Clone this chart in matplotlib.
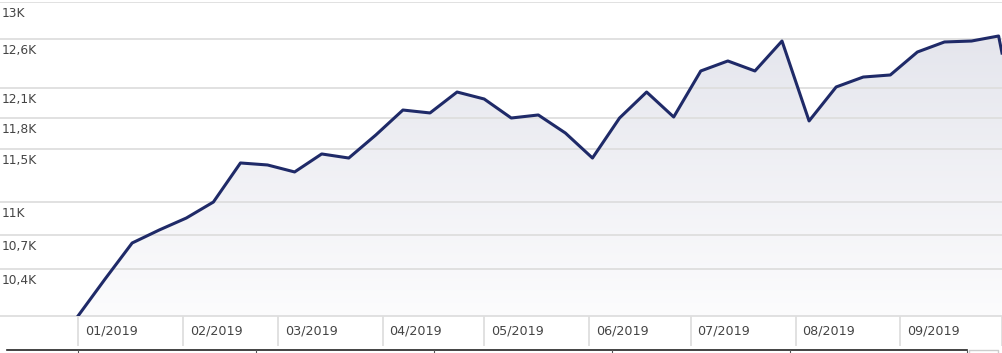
import matplotlib
matplotlib.use('Agg')
import matplotlib.pyplot as plt
import matplotlib.dates as mdates
from matplotlib.ticker import NullLocator, NullFormatter
from matplotlib.colors import LinearSegmentedColormap
import numpy as np
import pandas as pd

# growth of 10K
dates = ['2019-01-01', '2019-01-09', '2019-01-17', '2019-01-25', '2019-02-02', '2019-02-10',
         '2019-02-18', '2019-02-26', '2019-03-06', '2019-03-14', '2019-03-22', '2019-03-30',
         '2019-04-07', '2019-04-15', '2019-04-23', '2019-05-01', '2019-05-09', '2019-05-17',
         '2019-05-25', '2019-06-02', '2019-06-10', '2019-06-18', '2019-06-26', '2019-07-04',
         '2019-07-12', '2019-07-20', '2019-07-28', '2019-08-05', '2019-08-13', '2019-08-21',
         '2019-08-29', '2019-09-06', '2019-09-14', '2019-09-22', '2019-09-30', '2019-10-01']
values = [10000, 10314, 10629, 10745, 10853, 10999,
          11364, 11345, 11279, 11450, 11411, 11633,
          11878, 11849, 12058, 11988, 11799, 11829,
          11652, 11411, 11799, 12058, 11809, 12272,
          12375, 12272, 12583, 11770, 12109, 12210,
          12231, 12468, 12573, 12583, 12636, 12457]

y_ticks = [10400, 10700, 11000, 11500, 11800, 12100, 12600, 13000]
y_labels = ['10,4K', '10,7K', '11K', '11,5K', '11,8K', '12,1K', '12,6K', '13K']
months = ['2019-01-01', '2019-02-01', '2019-03-01', '2019-04-01', '2019-05-01',
          '2019-06-01', '2019-07-01', '2019-08-01', '2019-09-01']
month_labels = ['01/2019', '02/2019', '03/2019', '04/2019', '05/2019',
                '06/2019', '07/2019', '08/2019', '09/2019']

W, H = 1003, 353
fig = plt.figure(figsize=(W / 100, H / 100), dpi=100)
ax = fig.add_axes([0, (H - 316) / H, 1002 / W, 314 / H])

x = mdates.date2num(pd.to_datetime(dates))
px_per_day = (1002 - 78) / 273.0
x0 = mdates.date2num(pd.Timestamp('2019-01-01'))
ax.set_xlim(x0 - 78 / px_per_day, x0 + 924 / px_per_day)
ax.set_yscale('log')
ax.set_ylim(10000, 13000)

grid_col = '#dedede'
text_col = '#444444'
ax.set_yticks(y_ticks)
ax.yaxis.set_minor_locator(NullLocator())
ax.yaxis.set_minor_formatter(NullFormatter())
ax.set_yticklabels([])
ax.tick_params(left=False, bottom=False, labelbottom=False, labelleft=False)
ax.set_xticks([])
ax.grid(axis='y', color=grid_col, lw=1.3)
for s in ax.spines.values():
    s.set_visible(False)
ax.axhline(10000, color=grid_col, lw=1.3, clip_on=False)

# gradient area under the line
poly = ax.fill_between(x, values, 10000, facecolor='none', edgecolor='none')
cmap = LinearSegmentedColormap.from_list('g', ['#fcfcfd', '#e2e3eb'])
grad = np.linspace(0, 1, 256).reshape(-1, 1)
im = ax.imshow(grad, extent=[0, 1, 0, 1], transform=ax.transAxes, origin='lower',
               aspect='auto', cmap=cmap, zorder=1)
im.set_clip_path(poly.get_paths()[0], transform=ax.transData)

ax.plot(x, values, color='#1f2a68', lw=2.2, zorder=3)

# y labels under each gridline
for v, lab in zip(y_ticks, y_labels):
    ax.annotate(lab, xy=(2 / 1002, v), xycoords=('axes fraction', 'data'),
                xytext=(0, -5), textcoords='offset pixels', va='top', ha='left',
                fontsize=8.8, color=text_col)

# month band below the plot
band = fig.add_axes([0, (H - 346) / H, 1002 / W, 30 / H])
band.set_xlim(ax.get_xlim())
band.set_ylim(0, 1)
band.axis('off')
mx = mdates.date2num(pd.to_datetime(months))
for m, lab in zip(mx, month_labels):
    band.axvline(m, color=grid_col, lw=1.3)
    band.annotate(lab, xy=(m, 0.5), xycoords='data', xytext=(7, 0),
                  textcoords='offset pixels', va='center', ha='left',
                  fontsize=9.2, color=text_col)
band.axvline(band.get_xlim()[1], color=grid_col, lw=1.3)

# navigator strip at the very bottom
nav = fig.add_axes([0, 0, 1, 4 / H])
nav.set_xlim(0, W)
nav.set_ylim(0, 4)
nav.axis('off')
nav.plot([7, 967], [3.3, 3.3], color='#222222', lw=1.2)
for t in [78, 256, 434, 612, 790, 967]:
    nav.plot([t, t], [3.3, 0], color='#555555', lw=0.8)
nav.plot([969, 969, 998, 998], [0, 3.5, 3.5, 0], color='#cccccc', lw=1)

fig.savefig('out.png', dpi=100)
